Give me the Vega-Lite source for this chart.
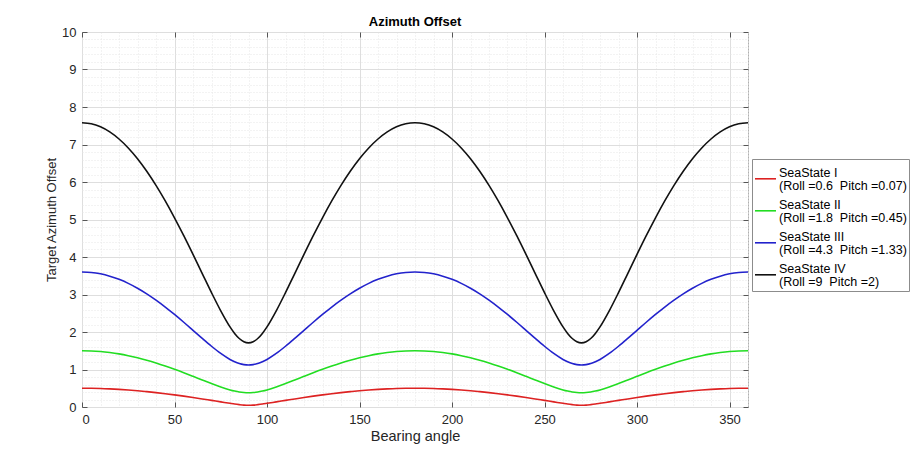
{
  "$schema": "https://vega.github.io/schema/vega-lite/v6.json",
  "width": 666,
  "height": 375,
  "autosize": "none",
  "padding": {"left": 82, "top": 32, "right": 166, "bottom": 43},
  "background": "white",
  "title": {"text": "Azimuth Offset", "fontSize": 13, "fontWeight": "bold", "font": "Liberation Sans", "color": "#000000", "offset": -3},
  "data": {"values": [
    {"s":"I","a":0,"v":0.5},{"s":"I","a":5,"v":0.498},{"s":"I","a":10,"v":0.493},{"s":"I","a":15,"v":0.483},{"s":"I","a":20,"v":0.47},{"s":"I","a":25,"v":0.454},{"s":"I","a":30,"v":0.434},{"s":"I","a":35,"v":0.41},{"s":"I","a":40,"v":0.384},{"s":"I","a":45,"v":0.355},{"s":"I","a":50,"v":0.323},{"s":"I","a":55,"v":0.289},{"s":"I","a":60,"v":0.253},{"s":"I","a":65,"v":0.215},{"s":"I","a":70,"v":0.176},{"s":"I","a":75,"v":0.137},{"s":"I","a":80,"v":0.098},{"s":"I","a":82.5,"v":0.079},{"s":"I","a":85,"v":0.063},{"s":"I","a":87.5,"v":0.05},{"s":"I","a":90,"v":0.045},
    {"s":"I","a":92.5,"v":0.05},{"s":"I","a":95,"v":0.063},{"s":"I","a":97.5,"v":0.079},{"s":"I","a":100,"v":0.098},{"s":"I","a":105,"v":0.137},{"s":"I","a":110,"v":0.176},{"s":"I","a":115,"v":0.215},{"s":"I","a":120,"v":0.253},{"s":"I","a":125,"v":0.289},{"s":"I","a":130,"v":0.323},{"s":"I","a":135,"v":0.355},{"s":"I","a":140,"v":0.384},{"s":"I","a":145,"v":0.41},{"s":"I","a":150,"v":0.434},{"s":"I","a":155,"v":0.454},{"s":"I","a":160,"v":0.47},{"s":"I","a":165,"v":0.483},{"s":"I","a":170,"v":0.493},{"s":"I","a":175,"v":0.498},{"s":"I","a":180,"v":0.5},
    {"s":"I","a":185,"v":0.498},{"s":"I","a":190,"v":0.493},{"s":"I","a":195,"v":0.483},{"s":"I","a":200,"v":0.47},{"s":"I","a":205,"v":0.454},{"s":"I","a":210,"v":0.434},{"s":"I","a":215,"v":0.41},{"s":"I","a":220,"v":0.384},{"s":"I","a":225,"v":0.355},{"s":"I","a":230,"v":0.323},{"s":"I","a":235,"v":0.289},{"s":"I","a":240,"v":0.253},{"s":"I","a":245,"v":0.215},{"s":"I","a":250,"v":0.176},{"s":"I","a":255,"v":0.137},{"s":"I","a":260,"v":0.098},{"s":"I","a":262.5,"v":0.079},{"s":"I","a":265,"v":0.063},{"s":"I","a":267.5,"v":0.05},{"s":"I","a":270,"v":0.045},
    {"s":"I","a":272.5,"v":0.05},{"s":"I","a":275,"v":0.063},{"s":"I","a":277.5,"v":0.079},{"s":"I","a":280,"v":0.098},{"s":"I","a":285,"v":0.137},{"s":"I","a":290,"v":0.176},{"s":"I","a":295,"v":0.215},{"s":"I","a":300,"v":0.253},{"s":"I","a":305,"v":0.289},{"s":"I","a":310,"v":0.323},{"s":"I","a":315,"v":0.355},{"s":"I","a":320,"v":0.384},{"s":"I","a":325,"v":0.41},{"s":"I","a":330,"v":0.434},{"s":"I","a":335,"v":0.454},{"s":"I","a":340,"v":0.47},{"s":"I","a":345,"v":0.483},{"s":"I","a":350,"v":0.493},{"s":"I","a":355,"v":0.498},{"s":"I","a":360,"v":0.5},

    {"s":"II","a":0,"v":1.5},{"s":"II","a":5,"v":1.495},{"s":"II","a":10,"v":1.479},{"s":"II","a":15,"v":1.452},{"s":"II","a":20,"v":1.416},{"s":"II","a":25,"v":1.369},{"s":"II","a":30,"v":1.313},{"s":"II","a":35,"v":1.248},{"s":"II","a":40,"v":1.175},{"s":"II","a":45,"v":1.094},{"s":"II","a":50,"v":1.007},{"s":"II","a":55,"v":0.915},{"s":"II","a":60,"v":0.819},{"s":"II","a":65,"v":0.721},{"s":"II","a":70,"v":0.625},{"s":"II","a":75,"v":0.534},{"s":"II","a":80,"v":0.456},{"s":"II","a":82.5,"v":0.425},{"s":"II","a":85,"v":0.4},{"s":"II","a":87.5,"v":0.385},{"s":"II","a":90,"v":0.38},
    {"s":"II","a":92.5,"v":0.385},{"s":"II","a":95,"v":0.4},{"s":"II","a":97.5,"v":0.425},{"s":"II","a":100,"v":0.456},{"s":"II","a":105,"v":0.534},{"s":"II","a":110,"v":0.625},{"s":"II","a":115,"v":0.721},{"s":"II","a":120,"v":0.819},{"s":"II","a":125,"v":0.915},{"s":"II","a":130,"v":1.007},{"s":"II","a":135,"v":1.094},{"s":"II","a":140,"v":1.175},{"s":"II","a":145,"v":1.248},{"s":"II","a":150,"v":1.313},{"s":"II","a":155,"v":1.369},{"s":"II","a":160,"v":1.416},{"s":"II","a":165,"v":1.452},{"s":"II","a":170,"v":1.479},{"s":"II","a":175,"v":1.495},{"s":"II","a":180,"v":1.5},
    {"s":"II","a":185,"v":1.495},{"s":"II","a":190,"v":1.479},{"s":"II","a":195,"v":1.452},{"s":"II","a":200,"v":1.416},{"s":"II","a":205,"v":1.369},{"s":"II","a":210,"v":1.313},{"s":"II","a":215,"v":1.248},{"s":"II","a":220,"v":1.175},{"s":"II","a":225,"v":1.094},{"s":"II","a":230,"v":1.007},{"s":"II","a":235,"v":0.915},{"s":"II","a":240,"v":0.819},{"s":"II","a":245,"v":0.721},{"s":"II","a":250,"v":0.625},{"s":"II","a":255,"v":0.534},{"s":"II","a":260,"v":0.456},{"s":"II","a":262.5,"v":0.425},{"s":"II","a":265,"v":0.4},{"s":"II","a":267.5,"v":0.385},{"s":"II","a":270,"v":0.38},
    {"s":"II","a":272.5,"v":0.385},{"s":"II","a":275,"v":0.4},{"s":"II","a":277.5,"v":0.425},{"s":"II","a":280,"v":0.456},{"s":"II","a":285,"v":0.534},{"s":"II","a":290,"v":0.625},{"s":"II","a":295,"v":0.721},{"s":"II","a":300,"v":0.819},{"s":"II","a":305,"v":0.915},{"s":"II","a":310,"v":1.007},{"s":"II","a":315,"v":1.094},{"s":"II","a":320,"v":1.175},{"s":"II","a":325,"v":1.248},{"s":"II","a":330,"v":1.313},{"s":"II","a":335,"v":1.369},{"s":"II","a":340,"v":1.416},{"s":"II","a":345,"v":1.452},{"s":"II","a":350,"v":1.479},{"s":"II","a":355,"v":1.495},{"s":"II","a":360,"v":1.5},

    {"s":"III","a":0,"v":3.6},{"s":"III","a":5,"v":3.588},{"s":"III","a":10,"v":3.551},{"s":"III","a":15,"v":3.489},{"s":"III","a":20,"v":3.405},{"s":"III","a":25,"v":3.297},{"s":"III","a":30,"v":3.168},{"s":"III","a":35,"v":3.018},{"s":"III","a":40,"v":2.85},{"s":"III","a":45,"v":2.666},{"s":"III","a":50,"v":2.468},{"s":"III","a":55,"v":2.26},{"s":"III","a":60,"v":2.045},{"s":"III","a":65,"v":1.829},{"s":"III","a":70,"v":1.62},{"s":"III","a":75,"v":1.428},{"s":"III","a":80,"v":1.268},{"s":"III","a":82.5,"v":1.206},{"s":"III","a":85,"v":1.159},{"s":"III","a":87.5,"v":1.13},{"s":"III","a":90,"v":1.12},
    {"s":"III","a":92.5,"v":1.13},{"s":"III","a":95,"v":1.159},{"s":"III","a":97.5,"v":1.206},{"s":"III","a":100,"v":1.268},{"s":"III","a":105,"v":1.428},{"s":"III","a":110,"v":1.62},{"s":"III","a":115,"v":1.829},{"s":"III","a":120,"v":2.045},{"s":"III","a":125,"v":2.26},{"s":"III","a":130,"v":2.468},{"s":"III","a":135,"v":2.666},{"s":"III","a":140,"v":2.85},{"s":"III","a":145,"v":3.018},{"s":"III","a":150,"v":3.168},{"s":"III","a":155,"v":3.297},{"s":"III","a":160,"v":3.405},{"s":"III","a":165,"v":3.489},{"s":"III","a":170,"v":3.551},{"s":"III","a":175,"v":3.588},{"s":"III","a":180,"v":3.6},
    {"s":"III","a":185,"v":3.588},{"s":"III","a":190,"v":3.551},{"s":"III","a":195,"v":3.489},{"s":"III","a":200,"v":3.405},{"s":"III","a":205,"v":3.297},{"s":"III","a":210,"v":3.168},{"s":"III","a":215,"v":3.018},{"s":"III","a":220,"v":2.85},{"s":"III","a":225,"v":2.666},{"s":"III","a":230,"v":2.468},{"s":"III","a":235,"v":2.26},{"s":"III","a":240,"v":2.045},{"s":"III","a":245,"v":1.829},{"s":"III","a":250,"v":1.62},{"s":"III","a":255,"v":1.428},{"s":"III","a":260,"v":1.268},{"s":"III","a":262.5,"v":1.206},{"s":"III","a":265,"v":1.159},{"s":"III","a":267.5,"v":1.13},{"s":"III","a":270,"v":1.12},
    {"s":"III","a":272.5,"v":1.13},{"s":"III","a":275,"v":1.159},{"s":"III","a":277.5,"v":1.206},{"s":"III","a":280,"v":1.268},{"s":"III","a":285,"v":1.428},{"s":"III","a":290,"v":1.62},{"s":"III","a":295,"v":1.829},{"s":"III","a":300,"v":2.045},{"s":"III","a":305,"v":2.26},{"s":"III","a":310,"v":2.468},{"s":"III","a":315,"v":2.666},{"s":"III","a":320,"v":2.85},{"s":"III","a":325,"v":3.018},{"s":"III","a":330,"v":3.168},{"s":"III","a":335,"v":3.297},{"s":"III","a":340,"v":3.405},{"s":"III","a":345,"v":3.489},{"s":"III","a":350,"v":3.551},{"s":"III","a":355,"v":3.588},{"s":"III","a":360,"v":3.6},

    {"s":"IV","a":0,"v":7.58},{"s":"IV","a":5,"v":7.553},{"s":"IV","a":10,"v":7.471},{"s":"IV","a":15,"v":7.335},{"s":"IV","a":20,"v":7.147},{"s":"IV","a":25,"v":6.908},{"s":"IV","a":30,"v":6.62},{"s":"IV","a":35,"v":6.286},{"s":"IV","a":40,"v":5.91},{"s":"IV","a":45,"v":5.495},{"s":"IV","a":50,"v":5.045},{"s":"IV","a":55,"v":4.568},{"s":"IV","a":60,"v":4.069},{"s":"IV","a":65,"v":3.559},{"s":"IV","a":70,"v":3.05},{"s":"IV","a":75,"v":2.565},{"s":"IV","a":80,"v":2.137},{"s":"IV","a":82.5,"v":1.963},{"s":"IV","a":85,"v":1.827},{"s":"IV","a":87.5,"v":1.74},{"s":"IV","a":90,"v":1.71},
    {"s":"IV","a":92.5,"v":1.74},{"s":"IV","a":95,"v":1.827},{"s":"IV","a":97.5,"v":1.963},{"s":"IV","a":100,"v":2.137},{"s":"IV","a":105,"v":2.565},{"s":"IV","a":110,"v":3.05},{"s":"IV","a":115,"v":3.559},{"s":"IV","a":120,"v":4.069},{"s":"IV","a":125,"v":4.568},{"s":"IV","a":130,"v":5.045},{"s":"IV","a":135,"v":5.495},{"s":"IV","a":140,"v":5.91},{"s":"IV","a":145,"v":6.286},{"s":"IV","a":150,"v":6.62},{"s":"IV","a":155,"v":6.908},{"s":"IV","a":160,"v":7.147},{"s":"IV","a":165,"v":7.335},{"s":"IV","a":170,"v":7.471},{"s":"IV","a":175,"v":7.553},{"s":"IV","a":180,"v":7.58},
    {"s":"IV","a":185,"v":7.553},{"s":"IV","a":190,"v":7.471},{"s":"IV","a":195,"v":7.335},{"s":"IV","a":200,"v":7.147},{"s":"IV","a":205,"v":6.908},{"s":"IV","a":210,"v":6.62},{"s":"IV","a":215,"v":6.286},{"s":"IV","a":220,"v":5.91},{"s":"IV","a":225,"v":5.495},{"s":"IV","a":230,"v":5.045},{"s":"IV","a":235,"v":4.568},{"s":"IV","a":240,"v":4.069},{"s":"IV","a":245,"v":3.559},{"s":"IV","a":250,"v":3.05},{"s":"IV","a":255,"v":2.565},{"s":"IV","a":260,"v":2.137},{"s":"IV","a":262.5,"v":1.963},{"s":"IV","a":265,"v":1.827},{"s":"IV","a":267.5,"v":1.74},{"s":"IV","a":270,"v":1.71},
    {"s":"IV","a":272.5,"v":1.74},{"s":"IV","a":275,"v":1.827},{"s":"IV","a":277.5,"v":1.963},{"s":"IV","a":280,"v":2.137},{"s":"IV","a":285,"v":2.565},{"s":"IV","a":290,"v":3.05},{"s":"IV","a":295,"v":3.559},{"s":"IV","a":300,"v":4.069},{"s":"IV","a":305,"v":4.568},{"s":"IV","a":310,"v":5.045},{"s":"IV","a":315,"v":5.495},{"s":"IV","a":320,"v":5.91},{"s":"IV","a":325,"v":6.286},{"s":"IV","a":330,"v":6.62},{"s":"IV","a":335,"v":6.908},{"s":"IV","a":340,"v":7.147},{"s":"IV","a":345,"v":7.335},{"s":"IV","a":350,"v":7.471},{"s":"IV","a":355,"v":7.553},{"s":"IV","a":360,"v":7.58}
  ]},
  "layer": [
    {
      "mark": {"type": "line", "strokeOpacity": 0},
      "encoding": {
        "x": {"field": "a", "type": "quantitative", "scale": {"domain": [0, 360], "nice": false, "zero": false},
              "axis": {"orient": "bottom", "values": [0,10,20,30,40,50,60,70,80,90,100,110,120,130,140,150,160,170,180,190,200,210,220,230,240,250,260,270,280,290,300,310,320,330,340,350,360],
                       "grid": true, "gridColor": "#e6e6e6", "gridDash": [1, 2], "gridWidth": 1, "labels": false, "ticks": false, "domain": false, "title": null}},
        "y": {"field": "v", "type": "quantitative", "scale": {"domain": [0, 10], "nice": false},
              "axis": {"orient": "left", "values": [0,0.2,0.4,0.6,0.8,1,1.2,1.4,1.6,1.8,2,2.2,2.4,2.6,2.8,3,3.2,3.4,3.6,3.8,4,4.2,4.4,4.6,4.8,5,5.2,5.4,5.6,5.8,6,6.2,6.4,6.6,6.8,7,7.2,7.4,7.6,7.8,8,8.2,8.4,8.6,8.8,9,9.2,9.4,9.6,9.8,10],
                       "grid": true, "gridColor": "#e6e6e6", "gridDash": [1, 2], "gridWidth": 1, "labels": false, "ticks": false, "domain": false, "title": null}},
        "detail": {"field": "s"}
      }
    },
    {
      "mark": {"type": "line", "strokeWidth": 1.6, "interpolate": "monotone"},
      "encoding": {
        "x": {"field": "a", "type": "quantitative",
              "axis": {"orient": "bottom", "values": [0,50,100,150,200,250,300,350], "grid": true, "gridColor": "#dedede", "gridWidth": 1,
                       "ticks": true, "tickSize": -5, "tickColor": "#555555", "domain": false,
                       "labelFontSize": 13, "labelColor": "#262626", "labelFont": "Liberation Sans", "labelPadding": 11,
                       "title": "Bearing angle", "titleFontSize": 14.5, "titleFontWeight": "normal", "titleColor": "#262626", "titleFont": "Liberation Sans", "titlePadding": 3}},
        "y": {"field": "v", "type": "quantitative",
              "axis": {"orient": "left", "values": [0,1,2,3,4,5,6,7,8,9,10], "grid": true, "gridColor": "#dedede", "gridWidth": 1,
                       "ticks": true, "tickSize": -5, "tickColor": "#555555", "domain": false,
                       "labelFontSize": 13, "labelColor": "#262626", "labelFont": "Liberation Sans", "labelPadding": 11,
                       "title": "Target Azimuth Offset", "titleFontSize": 13, "titleFontWeight": "normal", "titleColor": "#262626", "titleFont": "Liberation Sans", "titlePadding": 3}},
        "color": {"field": "s", "type": "nominal",
                  "scale": {"domain": ["I", "II", "III", "IV"], "range": ["#dd2222", "#22dd22", "#2222cc", "#111111"]},
                  "legend": {"orient": "none", "legendX": 670, "legendY": 127, "title": null,
                             "strokeColor": "#8c8c8c", "fillColor": "#ffffff", "padding": 2,
                             "symbolType": "M-1,0.6H1", "symbolSize": 441, "symbolStrokeWidth": 1.6,
                             "labelFontSize": 12.5, "labelFont": "Liberation Sans", "labelColor": "#000000", "labelOffset": 2, "rowPadding": 0,
                             "labelLimit": 300,
                             "labelExpr": "datum.value == 'I' ? ['SeaState I', '(Roll =0.6\u00a0 Pitch =0.07)'] : datum.value == 'II' ? ['SeaState II', '(Roll =1.8\u00a0 Pitch =0.45)'] : datum.value == 'III' ? ['SeaState III', '(Roll =4.3\u00a0 Pitch =1.33)'] : ['SeaState IV', '(Roll =9\u00a0 Pitch =2)']"}}
      }
    },
    {
      "mark": {"type": "line", "strokeOpacity": 0},
      "encoding": {
        "x": {"field": "a", "type": "quantitative",
              "axis": {"orient": "top", "values": [0,50,100,150,200,250,300,350], "grid": false, "labels": false, "ticks": true, "tickSize": -5, "tickColor": "#555555", "domain": false, "title": null}},
        "y": {"field": "v", "type": "quantitative",
              "axis": {"orient": "right", "values": [0,1,2,3,4,5,6,7,8,9,10], "grid": false, "labels": false, "ticks": true, "tickSize": -5, "tickColor": "#555555", "domain": false, "title": null}},
        "detail": {"field": "s"}
      }
    }
  ],
  "resolve": {"axis": {"x": "independent", "y": "independent"}},
  "config": {
    "view": {"stroke": "#b0b0b0", "strokeWidth": 1},
    "font": "Liberation Sans",
    "style": {"guide-label": {"lineHeight": 13.8}}
  }
}
